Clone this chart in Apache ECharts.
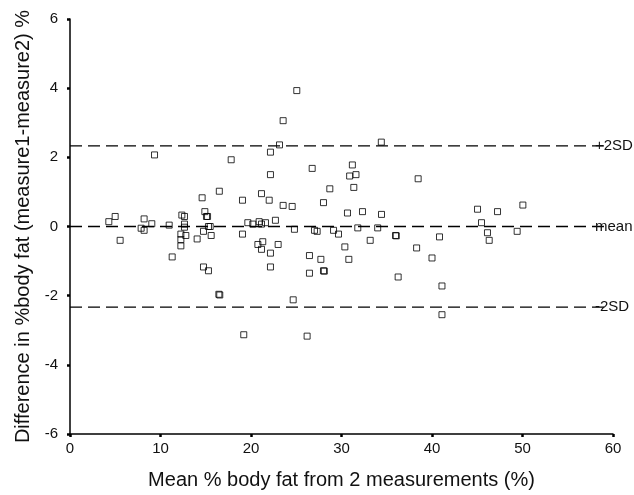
<!DOCTYPE html>
<html>
<head>
<meta charset="utf-8">
<script src="https://cdn.jsdelivr.net/npm/echarts@6/dist/echarts.min.js"></script>
<style>
  html, body { margin: 0; padding: 0; background: #fff; }
  #chart { width: 634px; height: 495px; }
</style>
</head>
<body>
<div id="chart"></div>
<script>
// mean % body fat of the two measurements
const meanFat = [
  9.34, 4.29, 4.99, 5.54, 8.19, 7.86, 8.19, 9.04, 10.96, 11.29,
  12.36, 12.65, 12.65, 12.65, 12.25, 12.8, 12.25, 12.25, 14.05, 14.6,
  14.9, 15.08, 15.2, 15.3, 15.49, 14.75, 15.6, 14.75, 15.3, 16.45,
  16.55, 16.5,
  25.06, 23.55, 23.15, 22.15, 17.81, 26.76, 31.2, 30.9, 31.6, 31.36,
  22.15, 28.71, 19.06, 21.16, 22.01, 23.55, 24.55, 28.01, 30.66, 19.65,
  20.2, 20.9, 21.16, 21.6, 22.7, 19.06, 24.8, 27.02, 27.31, 29.12,
  29.67, 31.8, 20.76, 21.3, 21.16, 23.0, 22.15, 30.37, 26.46, 27.72,
  30.81, 22.15, 26.46, 28.01, 28.1, 24.66, 19.2, 26.2,
  34.4, 38.47, 32.32, 34.42, 45.03, 47.24, 34.0, 33.17, 35.97, 36.05,
  38.3, 40.83, 40.0, 36.26, 41.1, 41.1, 45.47, 46.13, 46.32,
  50.04, 49.41
];

// difference measure1 - measure2
const diffFat = [
  2.07, 0.14, 0.29, -0.40, 0.22, -0.05, -0.11, 0.08, 0.04, -0.88,
  0.33, 0.29, 0.07, -0.02, -0.22, -0.26, -0.38, -0.56, -0.36, 0.83,
  0.43, 0.29, 0.29, 0.0, 0.0, -0.14, -0.26, -1.17, -1.28, -1.96,
  -1.98, 1.02,
  3.93, 3.06, 2.36, 2.15, 1.93, 1.68, 1.78, 1.46, 1.50, 1.13,
  1.50, 1.09, 0.76, 0.95, 0.76, 0.61, 0.58, 0.69, 0.39, 0.11,
  0.07, 0.14, 0.07, 0.11, 0.18, -0.22, -0.08, -0.11, -0.14, -0.11,
  -0.22, -0.04, -0.52, -0.44, -0.66, -0.52, -0.77, -0.59, -0.84, -0.95,
  -0.95, -1.17, -1.35, -1.28, -1.29, -2.12, -3.13, -3.17,
  2.44, 1.38, 0.43, 0.35, 0.50, 0.43, -0.04, -0.40, -0.26, -0.27,
  -0.62, -0.30, -0.91, -1.46, -1.72, -2.55, 0.11, -0.18, -0.40,
  0.62, -0.14
];

const limitNames = ['+2SD', 'mean', '-2SD'];
const limitValues = [2.33, 0, -2.33];
const limitSpan = [0, 59];

const xTicks = [0, 10, 20, 30, 40, 50, 60];
const yTicks = [-6, -4, -2, 0, 2, 4, 6];

const font = '"Liberation Sans", Arial, sans-serif';
const chart = echarts.init(document.getElementById('chart'));

const points = meanFat.map((x, i) => [x, diffFat[i]]);

const limitSeries = limitNames.map((name, i) => ({
  name,
  type: 'line',
  data: limitSpan.map((x) => [x, limitValues[i]]),
  symbol: 'none',
  silent: true,
  z: 1,
  lineStyle: { color: '#000', width: 1.3, type: [12, 6] },
  endLabel: {
    show: true,
    formatter: name,
    distance: -9,
    color: '#111',
    fontFamily: font,
    fontSize: 15,
  },
}));

chart.setOption({
  animation: false,
  backgroundColor: '#fff',
  grid: { left: 70, top: 19, width: 543, height: 418 },
  xAxis: {
    type: 'value',
    min: xTicks[0],
    max: xTicks[xTicks.length - 1],
    interval: 10,
    name: 'Mean % body fat from 2 measurements (%)',
    nameLocation: 'middle',
    nameGap: 36,
    nameTextStyle: { color: '#111', fontFamily: font, fontSize: 20 },
    axisLine: { onZero: false, lineStyle: { color: '#000', width: 1.5 } },
    axisTick: { show: true, length: 3, lineStyle: { color: '#000', width: 2.5 } },
    axisLabel: { color: '#111', fontFamily: font, fontSize: 15, margin: 7 },
    splitLine: { show: false },
  },
  yAxis: {
    type: 'value',
    min: yTicks[0],
    max: yTicks[yTicks.length - 1],
    interval: 2,
    name: 'Difference in %body fat (measure1-measure2) %',
    nameLocation: 'middle',
    nameGap: 29,
    nameTextStyle: { color: '#111', fontFamily: font, fontSize: 20 },
    axisLine: { show: true, onZero: false, lineStyle: { color: '#000', width: 1.5 } },
    axisTick: { show: true, length: 3, lineStyle: { color: '#000', width: 2.5 } },
    axisLabel: { color: '#111', fontFamily: font, fontSize: 15, margin: 12 },
    splitLine: { show: false },
  },
  series: [
    ...limitSeries,
    {
      type: 'scatter',
      data: points,
      symbol: 'rect',
      symbolSize: 6,
      z: 3,
      itemStyle: { color: 'rgba(0,0,0,0)', borderColor: '#000', borderWidth: 1 },
    },
  ],
});
</script>
</body>
</html>
